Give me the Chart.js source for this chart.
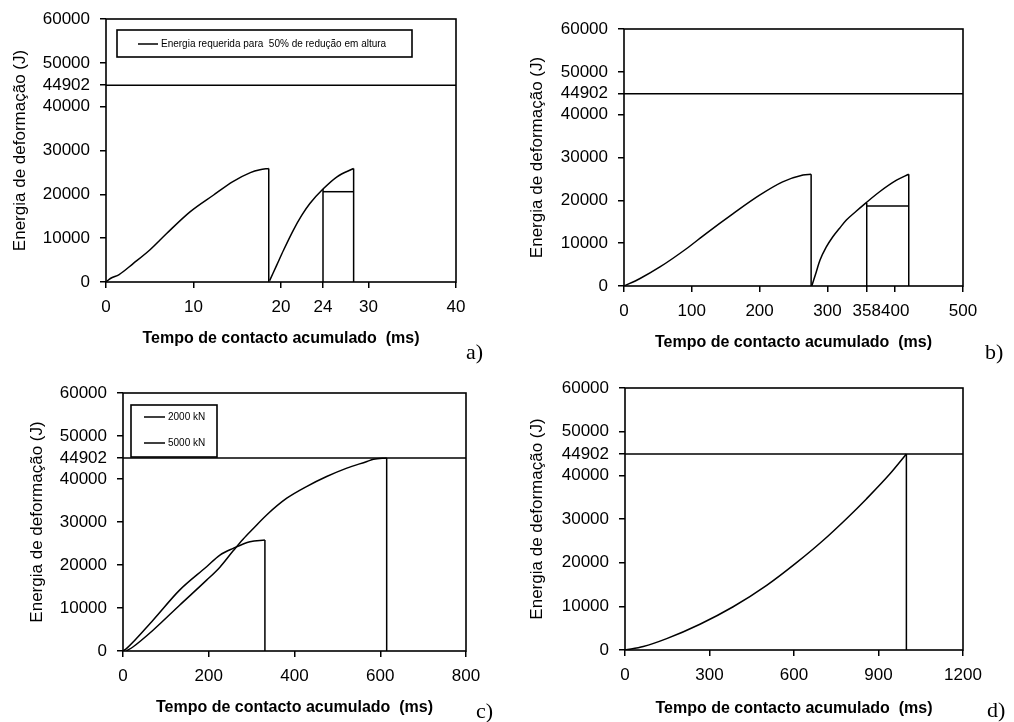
<!DOCTYPE html>
<html>
<head>
<meta charset="utf-8">
<script src="https://cdn.jsdelivr.net/npm/chart.js@4.4.1/dist/chart.umd.min.js"></script>
<style>
  body { margin: 0; background: #fff; width: 1014px; height: 722px; position: relative; overflow: hidden; }
  .panel { position: absolute; }
  .tag { position: absolute; font-family: "Liberation Serif", "Times New Roman", serif; font-size: 22px; line-height: 1; color: #000; }
</style>
</head>
<body>
<div class="panel" style="left:0;top:0"><canvas id="chart-a" width="500" height="360"></canvas></div>
<div class="panel" style="left:500px;top:0"><canvas id="chart-b" width="514" height="360"></canvas></div>
<div class="panel" style="left:0;top:360px"><canvas id="chart-c" width="500" height="362"></canvas></div>
<div class="panel" style="left:500px;top:360px"><canvas id="chart-d" width="514" height="362"></canvas></div>
<span class="tag" style="left:466px;top:341px">a)</span>
<span class="tag" style="left:985px;top:341px">b)</span>
<span class="tag" style="left:476px;top:700px">c)</span>
<span class="tag" style="left:987px;top:699px">d)</span>

<script>
// shared y axis
const yTicks = [0, 10000, 20000, 30000, 40000, 44902, 50000, 60000]
const yMax = 60000
const limitEnergy = 44902
const xTitle = 'Tempo de contacto acumulado  (ms)'
const yTitle = 'Energia de deformação (J)'

// a)
const aXTicks = [0, 10, 20, 24.8, 30, 40]
const aXTickLabels = ['0', '10', '20', '24', '30', '40']
const aX1 = [0, 0.5, 1.5, 3.1, 5.0, 6.9, 9.6, 12.3, 14.5, 16.5, 17.6, 18.6]
const aY1 = [0, 800, 1700, 4200, 7300, 11000, 16000, 19850, 22900, 24950, 25600, 25900]
const aX2 = [18.7, 19.5, 20.3, 21.4, 22.4, 23.3, 24.8, 26.4, 28.3]
const aY2 = [300, 3800, 7300, 11800, 15300, 17900, 21200, 24000, 25900]
const aCutX = 24.8
const aCutTop = 21200
const aCutY = 20600
const aLegend = ['Energia requerida para  50% de redução em altura']

// b)
const bXTicks = [0, 100, 200, 300, 358, 400, 500]
const bXTickLabels = ['0', '100', '200', '300', '358', '400', '500']
const bX1 = [0, 23, 53, 92, 121, 161, 200, 234, 264, 276]
const bY1 = [0, 1700, 4450, 8700, 12250, 16900, 21200, 24300, 25900, 26100]
const bX2 = [277, 283, 289, 298, 308, 318, 328, 342, 356, 377, 402, 420]
const bY2 = [0, 3000, 6000, 9000, 11500, 13500, 15400, 17400, 19300, 22000, 24700, 26100]
const bCutX = 358
const bCutTop = 19400
const bCutY = 18650

// c)
const cXTicks = [0, 200, 400, 600, 800]
const cX1 = [0, 8, 70, 132, 195, 226, 257, 296, 331]
const cY1 = [0, 560, 7160, 14150, 19590, 22310, 23870, 25410, 25810]
const cX2 = [8, 23, 70, 132, 195, 226, 257, 280, 304, 335, 382, 428, 475, 522, 569, 584, 615]
const cY2 = [0, 930, 4830, 10650, 16480, 19500, 23300, 26000, 28500, 31640, 35530, 38240, 40570, 42530, 44070, 44600, 44902]
const cLegend = ['2000 kN', '5000 kN']

// d)
const dXTicks = [0, 300, 600, 900, 1200]
const dX = [0, 65, 148, 266, 384, 503, 609, 700, 790, 857, 940, 999]
const dY = [0, 800, 2600, 5900, 9900, 14800, 20000, 24900, 30300, 34600, 40300, 44902]

const pts = (xs, ys) => xs.map((x, i) => ({ x: x, y: ys[i] }))
const curve = (xs, ys) => ({ data: pts(xs, ys), cubicInterpolationMode: 'monotone' })
const drop = (xs, ys) => {
    const n = xs.length - 1
    return { data: [{ x: xs[n], y: ys[n] }, { x: xs[n], y: 0 }] }
}
const seg = (x0, y0, x1, y1) => ({ data: [{ x: x0, y: y0 }, { x: x1, y: y1 }] })

const framePlugin = {
    id: 'frame',
    afterDatasetsDraw(chart) {
        const { ctx, chartArea: a } = chart
        ctx.save()
        ctx.strokeStyle = '#000'
        ctx.lineWidth = 1.6
        ctx.strokeRect(a.left, a.top, a.right - a.left, a.bottom - a.top)
        ctx.restore()
    }
}

const boxLegend = {
    id: 'boxLegend',
    afterDraw(chart, args, opts) {
        if (!opts || !opts.labels) return
        const { ctx, chartArea: a } = chart
        const x = a.left + opts.left
        const y = a.top + opts.top
        ctx.save()
        ctx.fillStyle = '#fff'
        ctx.fillRect(x, y, opts.width, opts.height)
        ctx.strokeStyle = '#000'
        ctx.lineWidth = 1.6
        ctx.strokeRect(x, y, opts.width, opts.height)
        ctx.font = '10px "Liberation Sans", Arial, sans-serif'
        ctx.textBaseline = 'middle'
        ctx.fillStyle = '#000'
        opts.labels.forEach((t, i) => {
            const ly = y + opts.firstRow + i * opts.rowGap
            ctx.lineWidth = 1.5
            ctx.beginPath()
            ctx.moveTo(x + opts.lineStart, ly)
            ctx.lineTo(x + opts.lineStart + opts.lineLen, ly)
            ctx.stroke()
            ctx.fillText(t, x + opts.lineStart + opts.lineLen + 3, ly)
        })
        ctx.restore()
    }
}

const tickFont = { family: '"Liberation Sans", Arial, sans-serif', size: 17 }

const makeChart = (id, cfg) => {
    const canvas = document.getElementById(id)
    const W = canvas.width
    const H = canvas.height
    const area = cfg.area
    const xLabels = cfg.xLabels || cfg.xTicks.map(String)
    return new Chart(canvas, {
        type: 'line',
        data: { datasets: cfg.datasets },
        options: {
            responsive: false,
            animation: false,
            layout: { padding: { left: 0, top: area.top, right: W - area.right, bottom: 0 } },
            elements: {
                point: { radius: 0 },
                line: { borderColor: '#000', borderWidth: 1.5, tension: 0, fill: false }
            },
            plugins: {
                legend: { display: false },
                tooltip: { enabled: false },
                boxLegend: cfg.legend || false
            },
            scales: {
                x: {
                    type: 'linear',
                    min: cfg.xTicks[0],
                    max: cfg.xTicks[cfg.xTicks.length - 1],
                    afterBuildTicks: s => { s.ticks = cfg.xTicks.map(v => ({ value: v })) },
                    afterFit: s => { s.height = H - area.bottom; s.paddingLeft = 0; s.paddingRight = 0 },
                    ticks: {
                        autoSkip: false, maxRotation: 0, padding: 9, color: '#000', font: tickFont,
                        callback: (v, i) => xLabels[i]
                    },
                    grid: { drawOnChartArea: false, tickLength: 6, color: '#000', lineWidth: 1.5 },
                    border: { display: false },
                    title: {
                        display: true, text: xTitle, color: '#000',
                        font: { family: '"Liberation Sans", Arial, sans-serif', size: 16, weight: 'bold' },
                        padding: { top: 0, bottom: cfg.xTitlePad }
                    }
                },
                y: {
                    min: 0,
                    max: yMax,
                    afterBuildTicks: s => { s.ticks = yTicks.map(v => ({ value: v })) },
                    afterFit: s => { s.width = area.left; s.paddingTop = 0; s.paddingBottom = 0 },
                    ticks: {
                        padding: 10, color: '#000', font: tickFont,
                        callback: v => String(v)
                    },
                    grid: { drawOnChartArea: false, tickLength: 6, color: '#000', lineWidth: 1.5 },
                    border: { display: false },
                    title: {
                        display: true, text: yTitle, color: '#000',
                        font: { family: '"Liberation Sans", Arial, sans-serif', size: 17 },
                        padding: { top: cfg.yTitlePad, bottom: 0 }
                    }
                }
            }
        },
        plugins: [framePlugin, boxLegend]
    })
}

makeChart('chart-a', {
    area: { left: 106, right: 456, top: 19, bottom: 282 },
    xTicks: aXTicks, xLabels: aXTickLabels,
    xTitlePad: 12, yTitlePad: 10,
    datasets: [
        seg(aXTicks[0], limitEnergy, aXTicks[aXTicks.length - 1], limitEnergy),
        curve(aX1, aY1), drop(aX1, aY1),
        curve(aX2, aY2), drop(aX2, aY2),
        seg(aCutX, 0, aCutX, aCutTop),
        seg(aCutX, aCutY, aX2[aX2.length - 1], aCutY)
    ],
    legend: { labels: aLegend, left: 11, top: 11, width: 295, height: 27, firstRow: 14, rowGap: 0, lineStart: 21, lineLen: 20 }
})

makeChart('chart-b', {
    area: { left: 124, right: 463, top: 29, bottom: 286 },
    xTicks: bXTicks, xLabels: bXTickLabels,
    xTitlePad: 8, yTitlePad: 27,
    datasets: [
        seg(bXTicks[0], limitEnergy, bXTicks[bXTicks.length - 1], limitEnergy),
        curve(bX1, bY1), drop(bX1, bY1),
        curve(bX2, bY2), drop(bX2, bY2),
        seg(bCutX, 0, bCutX, bCutTop),
        seg(bCutX, bCutY, bX2[bX2.length - 1], bCutY)
    ]
})

makeChart('chart-c', {
    area: { left: 123, right: 466, top: 33, bottom: 291 },
    xTicks: cXTicks,
    xTitlePad: 5, yTitlePad: 27,
    datasets: [
        seg(cXTicks[0], limitEnergy, cXTicks[cXTicks.length - 1], limitEnergy),
        curve(cX1, cY1), drop(cX1, cY1),
        curve(cX2, cY2), drop(cX2, cY2)
    ],
    legend: { labels: cLegend, left: 8, top: 12, width: 86, height: 52, firstRow: 12, rowGap: 26, lineStart: 13, lineLen: 21 }
})

makeChart('chart-d', {
    area: { left: 125, right: 463, top: 28, bottom: 290 },
    xTicks: dXTicks,
    xTitlePad: 4, yTitlePad: 27,
    datasets: [
        seg(dXTicks[0], limitEnergy, dXTicks[dXTicks.length - 1], limitEnergy),
        curve(dX, dY), drop(dX, dY)
    ]
})
</script>
</body>
</html>
